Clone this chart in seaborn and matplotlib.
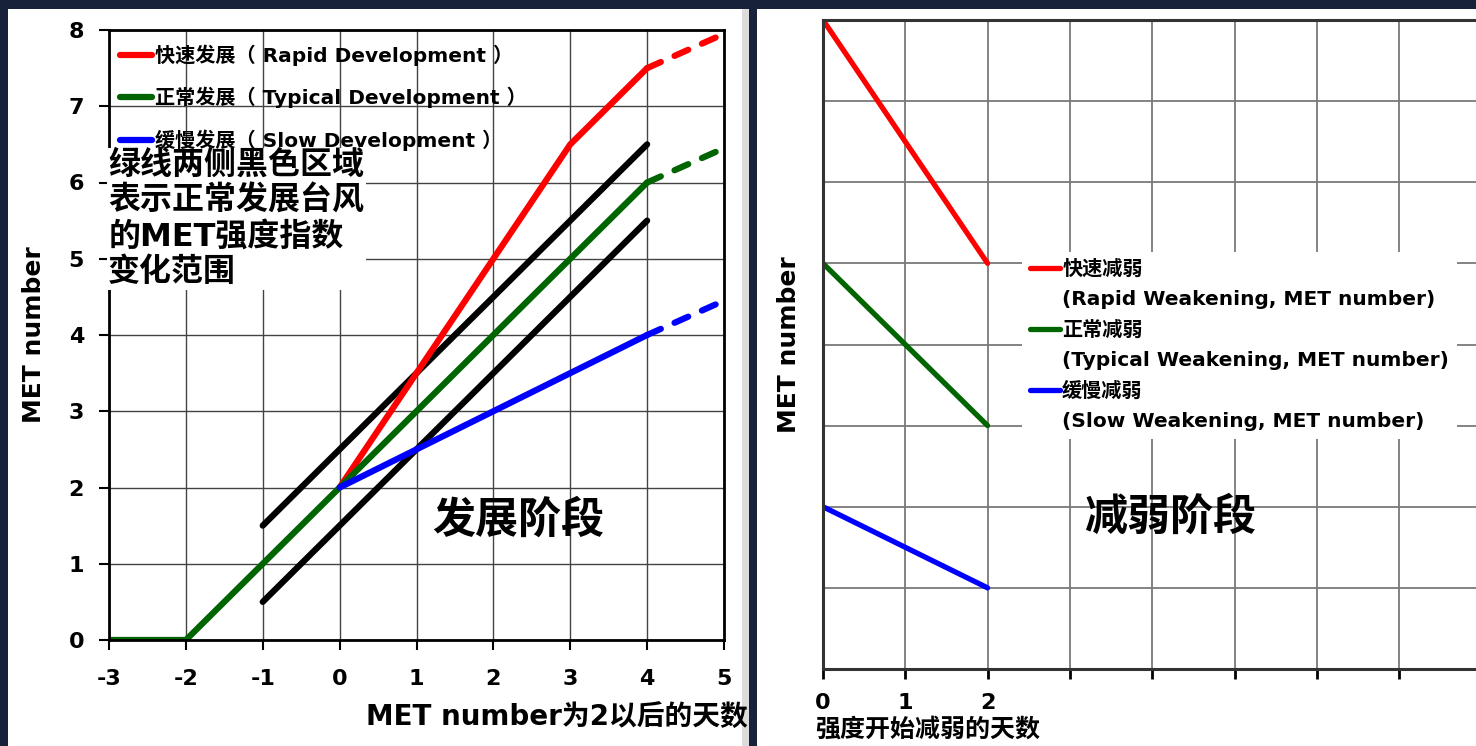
import matplotlib
matplotlib.use("Agg")
import matplotlib.pyplot as plt
import seaborn as sns
from matplotlib.patches import Rectangle
from matplotlib.lines import Line2D

# development stage (left panel): days after MET number reached 2
typical_days = [-3, -2, 4]
typical_met = [0, 0, 6]
typical_ext_days = [4, 5]
typical_ext_met = [6, 6.45]

rapid_days = [0, 3, 4]
rapid_met = [2, 6.5, 7.5]
rapid_ext_days = [4, 5]
rapid_ext_met = [7.5, 7.95]

slow_days = [0, 4]
slow_met = [2, 4]
slow_ext_days = [4, 5]
slow_ext_met = [4, 4.45]

band_days = [-1, 4]
band_upper = [1.5, 6.5]
band_lower = [0.5, 5.5]

dev_xticks = [-3, -2, -1, 0, 1, 2, 3, 4, 5]
dev_yticks = [0, 1, 2, 3, 4, 5, 6, 7, 8]

# weakening stage (right panel)
weak_days = [0, 2]
weak_rapid = [8, 5]
weak_typical = [5, 3]
weak_slow = [2, 1]
weak_xticks = [0, 1, 2, 3, 4, 5, 6, 7, 8]
weak_xticklabels = ["0", "1", "2", "", "", "", "", "", ""]

dev_labels = ["快速发展（ Rapid Development ）",
              "正常发展（ Typical Development ）",
              "缓慢发展（ Slow Development ）"]
weak_cn = ["快速减弱", "正常减弱", "缓慢减弱"]
weak_en = ["(Rapid Weakening, MET number)",
           "(Typical Weakening, MET number)",
           "(Slow Weakening, MET number)"]

RED, GREEN, BLUE = "#ff0000", "#006400", "#0000ff"

sns.set_theme(style="white")
plt.rcParams["font.family"] = ["DejaVu Sans", "Noto Sans CJK SC"]
plt.rcParams["font.weight"] = "bold"
plt.rcParams["axes.labelweight"] = "bold"
plt.rcParams["axes.unicode_minus"] = False
for key in ["text.color", "axes.labelcolor", "xtick.color", "ytick.color"]:
    plt.rcParams[key] = "black"

W, H = 1476, 746
fig = plt.figure(figsize=(W / 100, H / 100), dpi=100)
fig.patch.set_facecolor("#18213a")

# white slide panels
def px_rect(x0, y0, x1, y1, color):
    fig.add_artist(Rectangle((x0 / W, 1 - y1 / H), (x1 - x0) / W, (y1 - y0) / H,
                             transform=fig.transFigure, facecolor=color,
                             edgecolor="none", zorder=-10))

px_rect(8, 9, 742, 746, "white")
px_rect(742, 9, 749, 746, "#dcdcdc")
px_rect(757, 9, 1476, 746, "white")

# ---------------- left panel ----------------
ax1 = fig.add_axes([109 / W, 1 - 640 / H, (724 - 109) / W, (640 - 30) / H])
ax1.set_facecolor("white")
lw = 4.5
dash = (0, (2.4, 2.4))

sns.lineplot(x=band_days, y=band_upper, ax=ax1, color="black", linewidth=lw,
             errorbar=None, solid_capstyle="round")
sns.lineplot(x=band_days, y=band_lower, ax=ax1, color="black", linewidth=lw,
             errorbar=None, solid_capstyle="round")

sns.lineplot(x=rapid_days, y=rapid_met, ax=ax1, color=RED, linewidth=lw,
             errorbar=None, solid_capstyle="round", label=dev_labels[0])
sns.lineplot(x=typical_days, y=typical_met, ax=ax1, color=GREEN, linewidth=lw,
             errorbar=None, solid_capstyle="round", label=dev_labels[1])
sns.lineplot(x=slow_days, y=slow_met, ax=ax1, color=BLUE, linewidth=lw,
             errorbar=None, solid_capstyle="round", label=dev_labels[2])

for xs, ys, c in [(rapid_ext_days, rapid_ext_met, RED),
                  (typical_ext_days, typical_ext_met, GREEN),
                  (slow_ext_days, slow_ext_met, BLUE)]:
    sns.lineplot(x=xs, y=ys, ax=ax1, color=c, linewidth=lw, errorbar=None,
                 linestyle=dash, dash_capstyle="round")

ax1.set_xlim(-3, 5)
ax1.set_ylim(0, 8)
ax1.set_xticks(dev_xticks)
ax1.set_yticks(dev_yticks)
ax1.grid(True, color="#444444", linewidth=1.0)
for s in ax1.spines.values():
    s.set_color("black")
    s.set_linewidth(2)
ax1.tick_params(axis="both", direction="out", length=7, width=1.5,
                labelsize=16, colors="black", pad=11, left=True, bottom=True)
ax1.tick_params(axis="x", pad=14)

ax1.set_ylabel("MET number", fontsize=18, fontweight="bold", color="black")
ax1.yaxis.set_label_coords(-(109 - 46) / 615, 0.5)
ax1.set_xlabel("MET number为2以后的天数", fontsize=20, fontweight="bold",
               color="black", ha="right", va="center")
ax1.xaxis.set_label_coords((748 - 109) / 615, -(718 - 640) / 610)

leg1 = ax1.legend(loc="upper left", bbox_to_anchor=(0.005, 0.99),
                  borderaxespad=0, frameon=False, fontsize=14.5,
                  handlelength=1.6, handletextpad=0.15, labelspacing=1.05)
for t in leg1.get_texts():
    t.set_fontweight("bold")
    t.set_color("black")

ax1.text(-3.01, 6.43, "绿线两侧黑色区域\n表示正常发展台风\n的MET强度指数\n变化范围",
         fontsize=23, fontweight="bold", color="black", ha="left", va="top",
         linespacing=1.2, zorder=4,
         bbox=dict(facecolor="white", edgecolor="none", pad=1))
ax1.text(2.32, 1.57, "发展阶段", fontsize=31, fontweight="bold",
         color="black", ha="center", va="center")

# ---------------- right panel ----------------
ax2 = fig.add_axes([823 / W, 1 - 669 / H, (8 * 82.3) / W, (669 - 20) / H])
ax2.set_facecolor("white")
lw2 = 3.8

for ys, c, lab in [(weak_rapid, RED, weak_cn[0]),
                   (weak_typical, GREEN, weak_cn[1]),
                   (weak_slow, BLUE, weak_cn[2])]:
    sns.lineplot(x=weak_days, y=ys, ax=ax2, color=c, linewidth=lw2,
                 errorbar=None, solid_capstyle="round", label=lab)

ax2.set_xlim(0, 8)
ax2.set_ylim(0, 8)
ax2.set_xticks(weak_xticks)
ax2.set_xticklabels(weak_xticklabels)
ax2.set_yticks(range(0, 9))
ax2.set_yticklabels([""] * 9)
ax2.grid(True, color="#7a7a7a", linewidth=1.3)
for s in ax2.spines.values():
    s.set_color("#333333")
    s.set_linewidth(2.2)
ax2.tick_params(axis="x", direction="out", length=7, width=2, labelsize=16,
                colors="black", pad=10, bottom=True)
ax2.tick_params(axis="y", length=0)

ax2.set_ylabel("MET number", fontsize=18, fontweight="bold", color="black")
ax2.yaxis.set_label_coords(-(823 - 801) / 658, 0.5)
ax2.set_xlabel("强度开始减弱的天数", fontsize=18, fontweight="bold",
               color="black", ha="left", va="center")
ax2.xaxis.set_label_coords(-(823 - 815) / 658, -(730 - 669) / 649)

h, l = ax2.get_legend_handles_labels()
handles, labels = [], []
for hh, cn, en in zip(h, weak_cn, weak_en):
    handles += [hh, Line2D([], [], color="none")]
    labels += [cn, en]
leg2 = ax2.legend(handles, labels, loc="upper left", bbox_to_anchor=(0.302, 0.643),
                  borderaxespad=0, frameon=True, fancybox=False, framealpha=1,
                  facecolor="white", edgecolor="none", fontsize=14.5,
                  handlelength=1.5, handletextpad=0.1, labelspacing=0.56)
for t in leg2.get_texts():
    t.set_fontweight("bold")
    t.set_color("black")

ax2.text(4.22, 1.86, "减弱阶段", fontsize=31, fontweight="bold",
         color="black", ha="center", va="center")

fig.savefig("out.png", dpi=100, facecolor=fig.get_facecolor())
